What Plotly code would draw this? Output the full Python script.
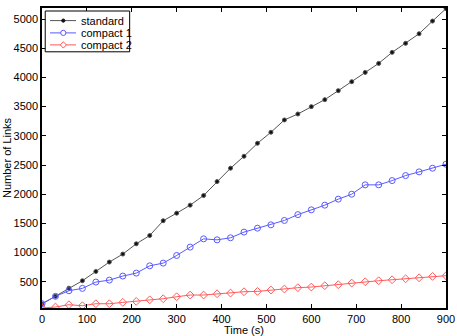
import plotly.graph_objects as go

# sample times (s)
time_s = list(range(0, 901, 30))

standard = [120, 250, 390, 517, 676, 837, 974, 1150, 1292, 1545, 1675, 1812,
            1977, 2216, 2445, 2650, 2872, 3061, 3272, 3374, 3500, 3620, 3774,
            3928, 4087, 4241, 4430, 4584, 4749, 4966, 5180]
compact1 = [123, 250, 346, 386, 494, 528, 597, 648, 773, 819, 950, 1093,
            1235, 1218, 1253, 1350, 1418, 1475, 1550, 1650, 1732, 1812, 1915,
            2000, 2160, 2160, 2233, 2319, 2382, 2445, 2514]
compact2 = [50, 67, 106, 89, 123, 123, 146, 163, 190, 209, 243, 272, 272, 294,
            306, 329, 334, 358, 375, 398, 409, 432, 449, 477, 500, 517, 534,
            551, 568, 591, 603]

series_names = ["standard", "compact 1", "compact 2"]

x_ticks = list(range(0, 901, 100))
y_ticks = list(range(500, 5001, 500))

font = "Liberation Sans, Arial, sans-serif"
colors = ["#555555", "#5a5aff", "#ff5a5a"]
marker_colors = ["#111111", "#5a5aff", "#ff5a5a"]
symbols = ["circle", "circle-open", "diamond-open"]
sizes = [4, 6, 6]

fig = go.Figure()
for name, vals, c, mc, sym, sz in zip(series_names, [standard, compact1, compact2],
                                      colors, marker_colors, symbols, sizes):
    fig.add_trace(go.Scatter(x=time_s, y=vals, name=name, mode="lines+markers",
                             line=dict(color=c, width=1),
                             marker=dict(symbol=sym, size=sz, color=mc,
                                         line=dict(width=1))))

axis_style = dict(showline=True, linecolor="black", linewidth=1.5, mirror="ticks",
                  ticks="inside", ticklen=4, tickcolor="black", showgrid=False,
                  zeroline=False, automargin=False,
                  tickfont=dict(size=11, color="black"))

fig.update_layout(
    width=457, height=336,
    margin=dict(l=42, r=11, t=8, b=28),
    paper_bgcolor="white", plot_bgcolor="white",
    font=dict(family=font, size=11, color="black"),
    showlegend=False,
    xaxis=dict(range=[0, 900], tickvals=x_ticks, ticklabelstandoff=0,
               title=dict(text="Time (s)", font=dict(size=11), standoff=0),
               **axis_style),
    yaxis=dict(range=[50, 5190], tickvals=y_ticks,
               title=dict(text="Number of Links", font=dict(size=11), standoff=0),
               **axis_style),
)

# compact MATLAB-style legend box drawn in paper coordinates
fig.add_shape(type="rect", xref="paper", yref="paper", x0=0.008, x1=0.217,
              y0=0.854, y1=0.99, line=dict(color="black", width=1),
              fillcolor="white", layer="above")
row_y = [0.958, 0.917, 0.877]
mx = 0.0527
for name, yy, c, mc, sym in zip(series_names, row_y, colors, marker_colors, symbols):
    fig.add_shape(type="line", xref="paper", yref="paper", x0=0.0198, x1=0.0842,
                  y0=yy, y1=yy, line=dict(color=c, width=1), layer="above")
    if sym == "diamond-open":
        fig.add_shape(type="path", xref="paper", yref="paper", xsizemode="pixel",
                      ysizemode="pixel", xanchor=mx, yanchor=yy,
                      path="M-3,0 L0,-3.2 L3,0 L0,3.2 Z",
                      line=dict(color=mc, width=1), fillcolor="white", layer="above")
    else:
        r = 1.6 if sym == "circle" else 2.6
        fig.add_shape(type="circle", xref="paper", yref="paper", xsizemode="pixel",
                      ysizemode="pixel", xanchor=mx, yanchor=yy,
                      x0=-r, x1=r, y0=-r, y1=r,
                      line=dict(color=mc, width=1),
                      fillcolor=mc if sym == "circle" else "white", layer="above")
    fig.add_annotation(xref="paper", yref="paper", x=0.0923, y=yy, text=name,
                       showarrow=False, xanchor="left", yanchor="middle",
                       font=dict(size=11, color="black"))

# drop the page's default body margin so the figure sits at the window corner
fig.write_html("out.html", config={"displayModeBar": False},
               post_script="document.body.style.margin='0';")
